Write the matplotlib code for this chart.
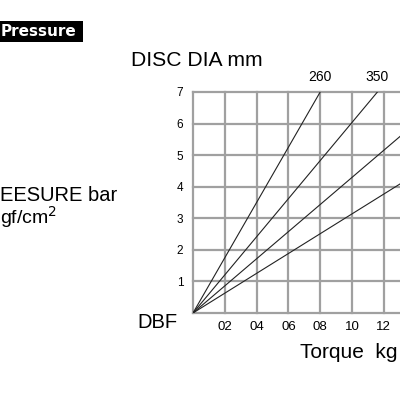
import numpy as np
import matplotlib.pyplot as plt
from matplotlib.patches import Rectangle

plt.rcParams['font.family'] = ['Liberation Sans', 'DejaVu Sans']

# torque reached at 7 bar for each disc line
torque_at_7 = [8.0, 11.6, 16.3, 22.3]
disc_labels = ['260', '350']
x_ticks = [0, 2, 4, 6, 8, 10, 12]
x_labels = ['', '02', '04', '06', '08', '10', '12']
y_ticks = [0, 1, 2, 3, 4, 5, 6, 7]
y_labels = ['', '1', '2', '3', '4', '5', '6', '7']

fig = plt.figure(figsize=(4, 4), dpi=100)
ax = fig.add_axes([193/400, 87/400, 207/400, 221/400])
ax.set_xlim(0, 13.02)
ax.set_ylim(0, 7)

for t in torque_at_7:
    ax.plot([0, t], [0, 7], color='#222222', lw=0.8)

for t, lab in zip(torque_at_7, disc_labels):
    ax.text(t, 7.25, lab, ha='center', va='bottom', fontsize=10)

ax.set_xticks(x_ticks)
ax.set_xticklabels(x_labels, fontsize=9.5)
ax.set_yticks(y_ticks)
ax.set_yticklabels(y_labels, fontsize=8.5)
ax.tick_params(length=0, pad=6)
ax.tick_params(axis='y', pad=7)
for s in ax.spines.values():
    s.set_visible(False)
ax.grid(True, color='#a0a0a0', lw=1.6)
for gl in ax.get_xgridlines() + ax.get_ygridlines():
    gl.set_clip_on(False)
ax.set_axisbelow(True)

fig.text(131/400, 1 - 60/400, 'DISC DIA mm', fontsize=15.2, va='center', ha='left')
fig.text(137/400, 1 - 323/400, 'DBF', fontsize=14.5, va='center', ha='left')
fig.text(0, 1 - 195/400, 'EESURE bar', fontsize=14.5, va='center', ha='left')
fig.text(0, 1 - 217/400, 'gf/cm$^2$', fontsize=14, va='center', ha='left')
fig.text(300/400, 1 - 353/400, 'Torque  kg', fontsize=15, va='center', ha='left')

fig.patches.append(Rectangle((0, 1 - 42/400), 83/400, 21/400, transform=fig.transFigure,
                             facecolor='black', edgecolor='none'))
fig.text(1/400, 1 - 31.5/400, 'Pressure', fontsize=11, fontweight='bold', color='white',
         family='DejaVu Sans', va='center', ha='left')

fig.savefig('out.png', dpi=100)
